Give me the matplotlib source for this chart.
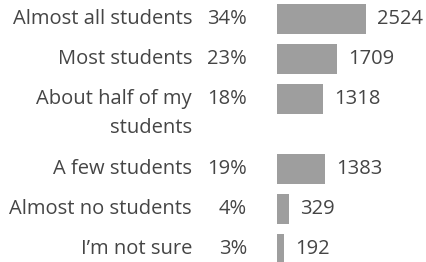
import matplotlib
matplotlib.use("Agg")
import matplotlib.pyplot as plt
import matplotlib.transforms as mtransforms

# survey answers, counts and shares
categories = ["Almost all students", "Most students", "About half of my\nstudents",
              "A few students", "Almost no students", "I\u2019m not sure"]
counts = [2524, 1709, 1318, 1383, 329, 192]
shares = ["34%", "23%", "18%", "19%", "4%", "3%"]

TEXT = "#454545"
BAR = "#9e9e9e"
FONT = "Open Sans"
SIZE = 14.5

W, H = 427, 262
fig = plt.figure(figsize=(W / 100, H / 100), dpi=100)
# bars live in an axes starting at x=277px, full height; y measured in px
ax = fig.add_axes([277 / W, 0, 150 / W, 1])
ax.set_xlim(0, 150 * 2524 / 88.5)
ax.set_ylim(H, 0)
ax.axis("off")

row_h, line_h, top = 40, 30, 19
ys = []
y = top
for c in categories:
    ys.append(y)
    y += row_h + line_h * c.count("\n")

ax.barh(ys, counts, height=30, color=BAR, align="center")

trans = mtransforms.blended_transform_factory(ax.transAxes, ax.transData)
for yy, c, s, n in zip(ys, categories, shares, counts):
    for i, line in enumerate(c.split("\n")):
        ax.text((192 - 277) / 150, yy + i * 29, line, transform=trans, ha="right",
                va="center", fontsize=SIZE, family=FONT, color=TEXT, clip_on=False)
    ax.text((247 - 277) / 150, yy, s, transform=trans, ha="right", va="center",
            fontsize=SIZE, family=FONT, color=TEXT, clip_on=False)
    ax.annotate(str(n), (n, yy), xytext=(8, 0), textcoords="offset points",
                ha="left", va="center", fontsize=SIZE, family=FONT, color=TEXT,
                annotation_clip=False)

fig.savefig("out.png", dpi=100)
